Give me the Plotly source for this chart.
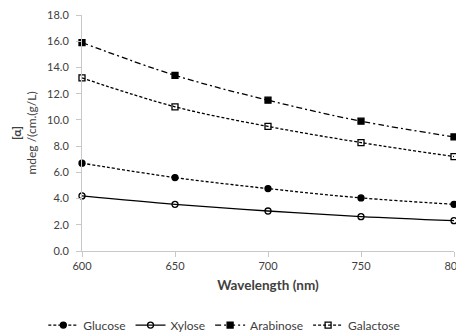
import plotly.graph_objects as go

wavelength = [600, 650, 700, 750, 800]
glucose = [6.7, 5.6, 4.76, 4.05, 3.56]
xylose = [4.2, 3.56, 3.05, 2.62, 2.31]
arabinose = [15.9, 13.4, 11.5, 9.9, 8.7]
galactose = [13.2, 11.0, 9.5, 8.27, 7.2]

series = [
    ("Glucose", glucose, "3px,2px", "circle"),
    ("Xylose", xylose, "solid", "circle-open"),
    ("Arabinose", arabinose, "6px,3px,2px,3px", "square"),
    ("Galactose", galactose, "3px,2px", "square-open"),
]

fig = go.Figure()
for name, vals, dash, sym in series:
    fig.add_trace(go.Scatter(
        x=wavelength, y=vals, name=name, mode="lines+markers",
        line=dict(color="black", width=1.3, dash=dash, shape="spline"),
        marker=dict(symbol=sym, size=6, color="black", line=dict(color="black", width=1.3)),
        cliponaxis=False,
    ))

txt = "#404040"
fig.update_layout(
    width=456, height=325,
    margin=dict(l=74, r=10, t=7, b=82, autoexpand=False),
    paper_bgcolor="white", plot_bgcolor="white",
    font=dict(family="Lato, Open Sans, sans-serif", size=11, color=txt),
    showlegend=True,
    legend=dict(orientation="h", x=-0.104, xref="paper", xanchor="left",
                y=-0.314, yref="paper", yanchor="middle", font=dict(size=12, color=txt),
                tracegroupgap=0),
    xaxis=dict(range=[600, 800], tickvals=wavelength, showgrid=False, zeroline=False,
               showline=True, linecolor="#c8c8c8", linewidth=1,
               ticks="outside", ticklen=5, tickcolor="#c8c8c8", ticklabeloverflow="allow",
               title=dict(text="<b>Wavelength (nm)</b>", font=dict(size=13.5, color=txt), standoff=9)),
    yaxis=dict(range=[0, 18], tickvals=[0, 2, 4, 6, 8, 10, 12, 14, 16, 18], tickformat=".1f",
               showgrid=False, zeroline=False, showline=True, linecolor="#c8c8c8", linewidth=1,
               ticks="outside", ticklen=5, tickcolor="#c8c8c8", ticklabeloverflow="allow",
               ticklabelstandoff=5,
               title=dict(text="<b>[α]</b><br>mdeg /(cm.(g/L)", font=dict(size=12, color=txt), standoff=7)),
)

fig.write_html("out.html")
